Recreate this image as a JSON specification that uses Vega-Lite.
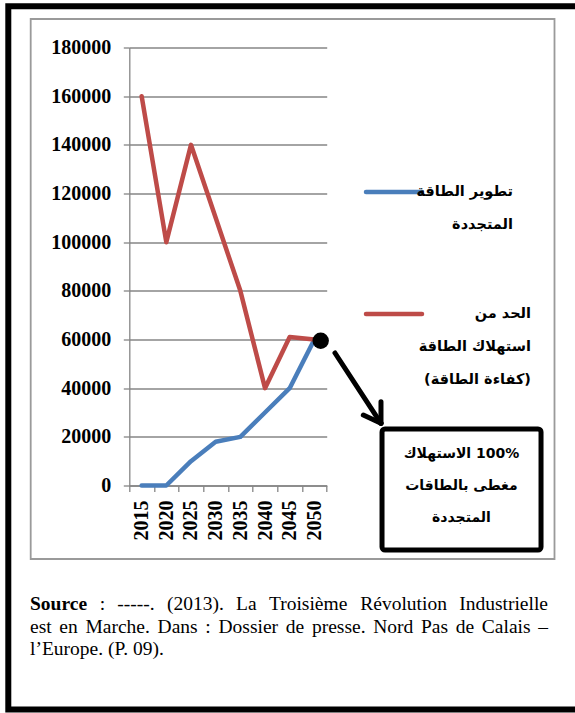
{
  "$schema": "https://vega.github.io/schema/vega-lite/v6.json",
  "width": 197.4,
  "height": 438,
  "autosize": {"type": "none"},
  "padding": {"left": 129.3, "top": 47.5, "right": 248.3, "bottom": 227.5},
  "background": "white",
  "config": {"view": {"stroke": null}, "text": {"font": "Liberation Serif", "fontSize": 19.5, "color": "black", "baseline": "middle", "align": "left"}},
  "data": {
    "values": [
      {"year": 2015, "series": "renewable", "value": 0},
      {"year": 2020, "series": "renewable", "value": 0},
      {"year": 2025, "series": "renewable", "value": 10000},
      {"year": 2030, "series": "renewable", "value": 18000},
      {"year": 2035, "series": "renewable", "value": 20000},
      {"year": 2040, "series": "renewable", "value": 30000},
      {"year": 2045, "series": "renewable", "value": 40000},
      {"year": 2050, "series": "renewable", "value": 60000},
      {"year": 2015, "series": "efficiency", "value": 160000},
      {"year": 2020, "series": "efficiency", "value": 100000},
      {"year": 2025, "series": "efficiency", "value": 140000},
      {"year": 2030, "series": "efficiency", "value": 110000},
      {"year": 2035, "series": "efficiency", "value": 80000},
      {"year": 2040, "series": "efficiency", "value": 40000},
      {"year": 2045, "series": "efficiency", "value": 61000},
      {"year": 2050, "series": "efficiency", "value": 60000}
    ]
  },
  "layer": [
    {
      "mark": {"type": "line", "strokeWidth": 4.5, "strokeCap": "round", "strokeJoin": "round"},
      "encoding": {
        "x": {
          "field": "year", "type": "ordinal",
          "scale": {"type": "band", "paddingInner": 0, "paddingOuter": 0},
          "axis": {
            "tickBand": "extent", "labelAngle": 270,
            "labelFont": "Liberation Serif", "labelFontWeight": "bold", "labelFontSize": 20, "labelColor": "black",
            "tickSize": 6, "tickColor": "#868686", "tickWidth": 1.3,
            "domainColor": "#868686", "domainWidth": 1.3,
            "labelPadding": 8.5, "title": null, "grid": false
          }
        },
        "y": {
          "field": "value", "type": "quantitative",
          "scale": {"domain": [0, 180000], "nice": false},
          "axis": {
            "values": [0, 20000, 40000, 60000, 80000, 100000, 120000, 140000, 160000, 180000],
            "format": "d",
            "labelFont": "Liberation Serif", "labelFontWeight": "bold", "labelFontSize": 20, "labelColor": "black",
            "tickSize": 6, "tickColor": "#868686", "tickWidth": 1.3,
            "grid": true, "gridColor": "#868686", "gridWidth": 1.3,
            "domainColor": "#868686", "domainWidth": 1.3,
            "labelPadding": 12.5, "title": null
          }
        },
        "color": {
          "field": "series", "type": "nominal",
          "scale": {"domain": ["renewable", "efficiency"], "range": ["#4A7EBB", "#BE4B48"]},
          "legend": null
        }
      }
    },
    {
      "data": {"values": [{}]},
      "layer": [
        {
          "mark": {"type": "rect", "fill": null, "stroke": "black", "strokeWidth": 6},
          "encoding": {
            "x": {"datum": 1987.98, "type": "quantitative", "scale": {"domain": [2012.5, 2052.5], "nice": false, "zero": false}, "axis": null},
            "x2": {"datum": 2103.83},
            "y": {"datum": 196973, "type": "quantitative", "axis": null},
            "y2": {"datum": -92055}
          }
        },
        {
          "mark": {"type": "rect", "fill": null, "stroke": "#9A9A9A", "strokeWidth": 1.8},
          "encoding": {
            "x": {"datum": 1992.52, "type": "quantitative", "axis": null},
            "x2": {"datum": 2098.66},
            "y": {"datum": 191713, "type": "quantitative", "axis": null},
            "y2": {"datum": -30206}
          }
        },
        {
          "mark": {"type": "rule", "color": "#4A7EBB", "strokeWidth": 4.5, "strokeCap": "round"},
          "encoding": {
            "x": {"datum": 2060.46, "type": "quantitative", "axis": null},
            "x2": {"datum": 2071.81},
            "y": {"datum": 120617, "type": "quantitative", "axis": null}
          }
        },
        {
          "mark": {"type": "rule", "color": "#BE4B48", "strokeWidth": 4.5, "strokeCap": "round"},
          "encoding": {
            "x": {"datum": 2060.46, "type": "quantitative", "axis": null},
            "x2": {"datum": 2071.81},
            "y": {"datum": 70480, "type": "quantitative", "axis": null}
          }
        },
        {
          "mark": {"type": "text", "align": "right", "font": "DejaVu Sans", "fontWeight": "bold", "fontSize": 14.5, "lineHeight": 33},
          "encoding": {
            "x": {"datum": 2090.25, "type": "quantitative", "axis": null},
            "y": {"datum": 120617, "type": "quantitative", "axis": null},
            "text": {"value": ["تطوير الطاقة", "المتجددة"]}
          }
        },
        {
          "mark": {"type": "text", "align": "right", "font": "DejaVu Sans", "fontWeight": "bold", "fontSize": 14.5, "lineHeight": 33},
          "encoding": {
            "x": {"datum": 2093.9, "type": "quantitative", "axis": null},
            "y": {"datum": 70480, "type": "quantitative", "axis": null},
            "text": {"value": ["الحد من", "استهلاك الطاقة", "(كفاءة الطاقة)"]}
          }
        },
        {
          "mark": {"type": "rule", "color": "black", "strokeWidth": 5, "strokeCap": "round"},
          "encoding": {
            "x": {"datum": 2054.18, "type": "quantitative", "axis": null},
            "x2": {"datum": 2063.5},
            "y": {"datum": 54452, "type": "quantitative", "axis": null},
            "y2": {"datum": 25562}
          }
        },
        {
          "mark": {"type": "rule", "color": "black", "strokeWidth": 5, "strokeCap": "round"},
          "encoding": {
            "x": {"datum": 2059.92, "type": "quantitative", "axis": null},
            "x2": {"datum": 2063.5},
            "y": {"datum": 28973, "type": "quantitative", "axis": null},
            "y2": {"datum": 25562}
          }
        },
        {
          "mark": {"type": "rule", "color": "black", "strokeWidth": 5, "strokeCap": "round"},
          "encoding": {
            "x": {"datum": 2063.5, "type": "quantitative", "axis": null},
            "x2": {"datum": 2063.5},
            "y": {"datum": 34438, "type": "quantitative", "axis": null},
            "y2": {"datum": 25562}
          }
        },
        {
          "mark": {"type": "rect", "fill": "white", "stroke": "black", "strokeWidth": 5, "cornerRadius": 3},
          "encoding": {
            "x": {"datum": 2063.71, "type": "quantitative", "axis": null},
            "x2": {"datum": 2095.93},
            "y": {"datum": 23219, "type": "quantitative", "axis": null},
            "y2": {"datum": -26507}
          }
        },
        {
          "mark": {"type": "text", "align": "center", "font": "DejaVu Sans", "fontWeight": "bold", "fontSize": 14, "lineHeight": 32},
          "encoding": {
            "x": {"datum": 2079.81, "type": "quantitative", "axis": null},
            "y": {"datum": 12800, "type": "quantitative", "axis": null},
            "text": {"value": ["الاستهلاك \u200e100%", "مغطى بالطاقات", "المتجددة"]}
          }
        },
        {
          "mark": {"type": "point", "filled": true, "color": "black", "opacity": 1, "size": 270},
          "encoding": {
            "x": {"datum": 2051.28, "type": "quantitative", "axis": null},
            "y": {"datum": 59507, "type": "quantitative", "axis": null}
          }
        },
        {
          "mark": {"type": "text", "fontWeight": "bold"},
          "encoding": {
            "x": {"datum": 1992.38, "type": "quantitative", "axis": null},
            "y": {"datum": -48699, "type": "quantitative", "axis": null},
            "text": {"value": "Source"}
          }
        },
        {
          "mark": {"type": "text"},
          "encoding": {
            "x": {"datum": 2006.49, "type": "quantitative", "axis": null},
            "y": {"datum": -48699, "type": "quantitative", "axis": null},
            "text": {"value": ":"}
          }
        },
        {
          "mark": {"type": "text"},
          "encoding": {
            "x": {"datum": 2010.07, "type": "quantitative", "axis": null},
            "y": {"datum": -48699, "type": "quantitative", "axis": null},
            "text": {"value": "-----."}
          }
        },
        {
          "mark": {"type": "text"},
          "encoding": {
            "x": {"datum": 2020.12, "type": "quantitative", "axis": null},
            "y": {"datum": -48699, "type": "quantitative", "axis": null},
            "text": {"value": "(2013)."}
          }
        },
        {
          "mark": {"type": "text"},
          "encoding": {
            "x": {"datum": 2034.13, "type": "quantitative", "axis": null},
            "y": {"datum": -48699, "type": "quantitative", "axis": null},
            "text": {"value": "La"}
          }
        },
        {
          "mark": {"type": "text"},
          "encoding": {
            "x": {"datum": 2040.79, "type": "quantitative", "axis": null},
            "y": {"datum": -48699, "type": "quantitative", "axis": null},
            "text": {"value": "Troisième"}
          }
        },
        {
          "mark": {"type": "text"},
          "encoding": {
            "x": {"datum": 2059.30, "type": "quantitative", "axis": null},
            "y": {"datum": -48699, "type": "quantitative", "axis": null},
            "text": {"value": "Révolution"}
          }
        },
        {
          "mark": {"type": "text", "align": "right"},
          "encoding": {
            "x": {"datum": 2097.34, "type": "quantitative", "axis": null},
            "y": {"datum": -48699, "type": "quantitative", "axis": null},
            "text": {"value": "Industrielle"}
          }
        },
        {
          "mark": {"type": "text"},
          "encoding": {
            "x": {"datum": 1992.38, "type": "quantitative", "axis": null},
            "y": {"datum": -58151, "type": "quantitative", "axis": null},
            "text": {"value": "est"}
          }
        },
        {
          "mark": {"type": "text"},
          "encoding": {
            "x": {"datum": 1998.33, "type": "quantitative", "axis": null},
            "y": {"datum": -58151, "type": "quantitative", "axis": null},
            "text": {"value": "en"}
          }
        },
        {
          "mark": {"type": "text"},
          "encoding": {
            "x": {"datum": 2003.62, "type": "quantitative", "axis": null},
            "y": {"datum": -58151, "type": "quantitative", "axis": null},
            "text": {"value": "Marche."}
          }
        },
        {
          "mark": {"type": "text"},
          "encoding": {
            "x": {"datum": 2018.23, "type": "quantitative", "axis": null},
            "y": {"datum": -58151, "type": "quantitative", "axis": null},
            "text": {"value": "Dans"}
          }
        },
        {
          "mark": {"type": "text"},
          "encoding": {
            "x": {"datum": 2027.91, "type": "quantitative", "axis": null},
            "y": {"datum": -58151, "type": "quantitative", "axis": null},
            "text": {"value": ":"}
          }
        },
        {
          "mark": {"type": "text"},
          "encoding": {
            "x": {"datum": 2030.57, "type": "quantitative", "axis": null},
            "y": {"datum": -58151, "type": "quantitative", "axis": null},
            "text": {"value": "Dossier"}
          }
        },
        {
          "mark": {"type": "text"},
          "encoding": {
            "x": {"datum": 2044.20, "type": "quantitative", "axis": null},
            "y": {"datum": -58151, "type": "quantitative", "axis": null},
            "text": {"value": "de"}
          }
        },
        {
          "mark": {"type": "text"},
          "encoding": {
            "x": {"datum": 2049.50, "type": "quantitative", "axis": null},
            "y": {"datum": -58151, "type": "quantitative", "axis": null},
            "text": {"value": "presse."}
          }
        },
        {
          "mark": {"type": "text"},
          "encoding": {
            "x": {"datum": 2061.92, "type": "quantitative", "axis": null},
            "y": {"datum": -58151, "type": "quantitative", "axis": null},
            "text": {"value": "Nord"}
          }
        },
        {
          "mark": {"type": "text"},
          "encoding": {
            "x": {"datum": 2071.60, "type": "quantitative", "axis": null},
            "y": {"datum": -58151, "type": "quantitative", "axis": null},
            "text": {"value": "Pas"}
          }
        },
        {
          "mark": {"type": "text"},
          "encoding": {
            "x": {"datum": 2078.65, "type": "quantitative", "axis": null},
            "y": {"datum": -58151, "type": "quantitative", "axis": null},
            "text": {"value": "de"}
          }
        },
        {
          "mark": {"type": "text"},
          "encoding": {
            "x": {"datum": 2083.94, "type": "quantitative", "axis": null},
            "y": {"datum": -58151, "type": "quantitative", "axis": null},
            "text": {"value": "Calais"}
          }
        },
        {
          "mark": {"type": "text", "align": "right"},
          "encoding": {
            "x": {"datum": 2097.34, "type": "quantitative", "axis": null},
            "y": {"datum": -58151, "type": "quantitative", "axis": null},
            "text": {"value": "–"}
          }
        },
        {
          "mark": {"type": "text"},
          "encoding": {
            "x": {"datum": 1992.38, "type": "quantitative", "axis": null},
            "y": {"datum": -67192, "type": "quantitative", "axis": null},
            "text": {"value": "l’Europe. (P. 09)."}
          }
        }
      ]
    }
  ],
  "resolve": {"scale": {"x": "independent"}, "axis": {"y": "independent"}}
}
